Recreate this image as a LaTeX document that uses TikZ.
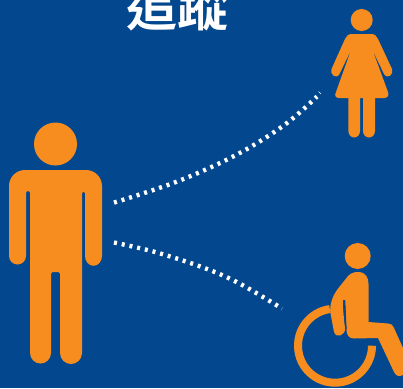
\documentclass[tikz,border=0pt]{standalone}
\usepackage{fontspec}
\newfontfamily\cjk{Noto Sans CJK TC Bold}
\definecolor{bg}{HTML}{03488E}
\definecolor{org}{HTML}{F78D1E}
\tikzset{fig/.style={fill=org,draw=none},
  trail/.style={draw=white,line width=4.4pt,dash pattern=on 3pt off 4.9pt}}
\begin{document}
\begin{tikzpicture}[x=1pt,y=-1pt]
\useasboundingbox (0,0) rectangle (403,388);
\fill[bg] (0,0) rectangle (403,388);
\begin{scope}
\clip (0,0) rectangle (403,388);
\node[text=white,font=\cjk\fontsize{51pt}{51pt}\selectfont,anchor=center,inner sep=0pt] (title) at (177,7.5) {追蹤};
% man
\fill[fig] (55.5,144) circle (21.5);
\fill[fig] (25,170) -- (86,170) arc[start angle=-90,end angle=0,radius=16] -- (102,256)
  arc[start angle=0,end angle=180,x radius=8.5,y radius=9.8] -- (85,193) arc[start angle=0,end angle=-180,radius=1.5] -- (82,193)
  -- (82,353) arc[start angle=0,end angle=180,radius=11] -- (60,273.5) arc[start angle=0,end angle=-90,radius=1.5] -- (52.5,272)
  arc[start angle=-90,end angle=-180,radius=1.5] -- (51,353) arc[start angle=0,end angle=180,radius=10.5] -- (30,193)
  arc[start angle=0,end angle=-180,radius=2] -- (26,256) arc[start angle=0,end angle=180,radius=8.5] -- (9,186)
  arc[start angle=180,end angle=270,radius=16] -- cycle;
% woman
\fill[fig] (361.7,20) circle (11);
\fill[fig] (352,34) -- (371,34) .. controls (375,34) and (376.5,36) .. (378,39)
  -- (392,69) .. controls (394,74) and (388,80) .. (384,74)
  -- (372.5,50) -- (388,92) .. controls (389.5,96) and (387,98) .. (384,98)
  -- (375,98) -- (375,131) arc[start angle=0,end angle=180,x radius=6,y radius=6.5]
  -- (363,98) -- (360,98) -- (360,131) arc[start angle=0,end angle=180,x radius=5.8,y radius=6.5]
  -- (348.4,98) -- (339,98) .. controls (336,98) and (334,96) .. (336,92)
  -- (351,50) -- (339.5,74) .. controls (336,80) and (329.5,74) .. (331.5,69)
  -- (345,39) .. controls (346.5,36) and (348,34) .. (352,34) -- cycle;
% wheelchair
\fill[fig] (357.7,256) circle (13);
\draw[org,line width=8pt] (335,345.7) ++(-98:37) arc[start angle=-98,end angle=-360,radius=37];
\fill[bg] (329,300) -- (336,300) -- (340,340) -- (366,340) -- (378,338) -- (378,330) -- (350,330) -- cycle;
\fill[fig] (358,272) .. controls (366,272) and (368.5,278) .. (368.5,284)
  -- (368.5,322) -- (388,323.5) .. controls (391,323.5) and (393,325) .. (394,328)
  -- (403,348) -- (403,375) .. controls (399,377) and (396,376) .. (394,372)
  -- (378,338) -- (354,338.5) .. controls (349,338.5) and (346.5,335) .. (346.5,330)
  -- (345,300) -- (343,300) .. controls (343,310) and (344,320) .. (345,328)
  .. controls (346,335) and (336,339) .. (334,332)
  -- (331,316) .. controls (329,308) and (331,302) .. (333,297)
  .. controls (336,290) and (342,284) .. (348,276)
  .. controls (351,273) and (354,272) .. (358,272) -- cycle;
\fill[bg] (343.3,300) .. controls (343.3,310) and (344.3,322) .. (345.8,329) -- (346.6,329) -- (345.2,300) -- cycle;
% trails
\draw[trail] plot[smooth,tension=0.6] coordinates {(114,202.6) (176.7,181.7) (236,155) (284.3,125) (317,96.5)};
\draw[white,line width=0.5pt] (318.5,91.5) -- (321,94);
\draw[trail] plot[smooth,tension=0.6] coordinates {(114,242.5) (155,252) (201.7,267) (238,282.7) (282,308.5)};
\end{scope}
\end{tikzpicture}
\end{document}
